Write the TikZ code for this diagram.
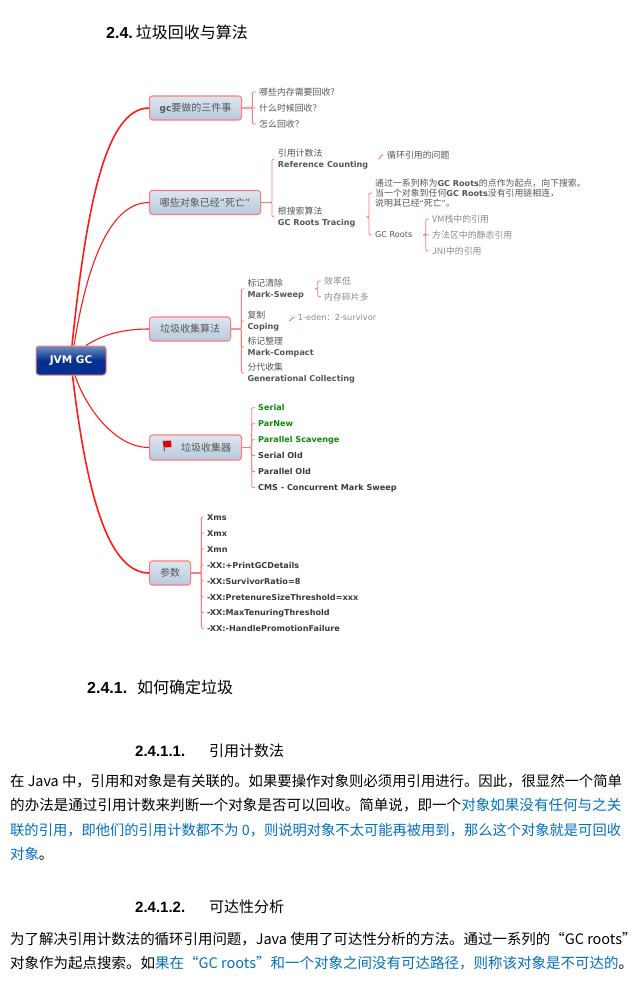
\documentclass[tikz,border=0pt]{standalone}
\usepackage{fontspec}
\usetikzlibrary{calc}
\setmainfont{DejaVu Sans}
\newfontfamily\cjk{Noto Sans CJK SC}
\newfontfamily\latinb{DejaVu Sans}
\newfontfamily\headnum{Liberation Sans}
\definecolor{branch}{HTML}{FF1A1A}
\definecolor{twigred}{HTML}{FF7A80}
\definecolor{ink}{HTML}{3A3A3A}
\definecolor{softink}{HTML}{555555}
\definecolor{muted}{HTML}{8A8A8A}
\definecolor{linkblue}{HTML}{0070C0}
\definecolor{gogreen}{HTML}{0A8A0A}
\definecolor{topichi}{HTML}{DCE6EF}
\definecolor{topiclo}{HTML}{B7CADC}
\definecolor{roothi}{HTML}{6F8FBE}
\definecolor{rootlo}{HTML}{04308F}
\tikzset{
  topic/.style={draw=twigred,line width=1.1pt,rounded corners=3pt,anchor=west,
    top color=topichi,bottom color=topiclo,text=softink,inner sep=0pt,
    minimum height=24pt,font=\cjk\fontsize{10}{12}\selectfont},
  leaf/.style={anchor=west,inner sep=0pt,text=softink,align=left,font=\cjk\fontsize{8.9}{10.5}\selectfont},
  grayleaf/.style={leaf,text=muted},
  boldleaf/.style={anchor=west,inner sep=0pt,text=ink,text height=7pt,text depth=1pt,
    font=\latinb\bfseries\fontsize{8.1}{10}\selectfont},
  goleaf/.style={boldleaf,text=gogreen},
  pairleaf/.style={leaf,font=\cjk\fontsize{8.9}{11}\selectfont},
  mainline/.style={draw=branch,line width=1.1pt},
  heavyline/.style={mainline,line width=1.6pt},
  twig/.style={draw=twigred,line width=0.9pt,rounded corners=1.2pt,shorten >=3pt},
  headline/.style={anchor=west,inner sep=0pt,text=black,font=\cjk\fontsize{16}{18}\selectfont},
  subhead/.style={anchor=west,inner sep=0pt,text=black,font=\cjk\fontsize{15}{18}\selectfont},
  bodyline/.style={anchor=west,inner sep=0pt,text=black,font=\cjk\fontsize{#1}{18}\selectfont}
}
\newcommand{\bl}[1]{{\latinb\bfseries\fontsize{8.1}{10}\selectfont #1}}
\newcommand{\num}[1]{{\headnum\bfseries #1}}
\newcommand{\blue}[1]{\textcolor{linkblue}{#1}}
\newcommand{\nq}[1]{{\latinb\fontsize{8}{10}\selectfont #1}}
\begin{document}
\begin{tikzpicture}[x=1pt,y=-1pt]
\useasboundingbox (0,0) rectangle (640,998);
% heading
\node[headline] (title) at (106,32) {\num{2.4.}\hspace{3pt}垃圾回收与算法};
% centre of the map
\node[draw=twigred,line width=1pt,rounded corners=3pt,top color=roothi,bottom color=rootlo,
  middle color=rootlo,text=white,minimum width=70pt,minimum height=29pt,inner sep=0pt,
  font=\latinb\bfseries\fontsize{10.5}{12}\selectfont] (jvm) at (71,360.5) {JVM GC};
\node[topic,minimum width=92pt] (gc) at (149,108) {{\latinb\bfseries\fontsize{9}{10}\selectfont gc}要做的三件事};
\node[topic,minimum width=111pt] (dead) at (149,202.5) {哪些对象已经{\latinb “}死亡{\latinb ”}};
\node[topic,minimum width=81pt] (algo) at (149,329) {垃圾收集算法};
\node[topic,minimum width=92pt,minimum height=25pt] (coll) at (149,447.5) {\hspace{21pt}垃圾收集器\hspace{2pt}};
\node[topic,minimum width=41pt] (param) at (149,573) {参数};
\draw[heavyline] ([xshift=1pt]jvm.north) .. controls (86,210) and (105,108) .. (gc.west);
\draw[mainline] ([xshift=3pt]jvm.north) .. controls (86,270) and (108,202.5) .. (dead.west);
\draw[mainline] ([xshift=15pt]jvm.north) .. controls (102,335) and (122,329) .. (algo.west);
\draw[mainline] ([xshift=4pt]jvm.south) .. controls (86,408) and (115,447.5) .. (coll.west);
\draw[heavyline] ([xshift=1.5pt]jvm.south) .. controls (85,480) and (105,573) .. (param.west);
% little flag
\fill[softink] (162.5,440.5) -- (163.5,440.5) -- (165,451) -- (164,451) -- cycle;
\fill[red!90!black] (163.5,441) -- (171,440.5) -- (171.5,447) -- (164.5,447.5) -- cycle;
% what gc does
\node[leaf] (q1) at (259,92) {哪些内存需要回收？};
\node[leaf] (q2) at (259,108) {什么时候回收？};
\node[leaf] (q3) at (259,124) {怎么回收？};
\foreach \k in {q1,q2,q3}
  \draw[twig] (gc.east) -- (252.3,108) |- (\k.west);
% dead objects
\node[pairleaf] (refc) at (277.7,159) {引用计数法\\\bl{Reference Counting}};
\node[pairleaf] (trace) at (277.7,217) {根搜索算法\\\bl{GC Roots Tracing}};
\foreach \k in {refc,trace}
  \draw[twig] (dead.east) -- (272,202.5) |- (\k.west);
\coordinate (refout) at (378,159);
\node[leaf] (cycle) at (387,155) {循环引用的问题};
\draw[twig] (refout) -- (380,159) -- (381,155) -- (cycle.west);
\coordinate (traceout) at (366.5,217);
\node[leaf,font=\cjk\fontsize{8.9}{10}\selectfont] (desc) at (375,193)
  {通过一系列称为\bl{GC Roots}的点作为起点，向下搜索。\\当一个对象到任何\bl{GC Roots}没有引用链相连，\\说明其已经\nq{“}死亡\nq{”}。};
\node[leaf] (roots) at (375,235) {\latinb\fontsize{8.1}{10}\selectfont GC Roots};
\foreach \k in {desc,roots}
  \draw[twig] (traceout) -- (369,217) |- (\k.west);
\node[grayleaf] (r1) at (432,219) {VM栈中的引用};
\node[grayleaf] (r2) at (432,235) {方法区中的静态引用};
\node[grayleaf] (r3) at (432,251) {JNI中的引用};
\coordinate (rootsout) at (423,235);
\foreach \k in {r1,r2,r3}
  \draw[twig] (rootsout) -- (425.7,235) |- (\k.west);
% algorithms
\node[pairleaf] (sweep) at (247.3,289) {标记清除\\\bl{Mark-Sweep}};
\node[pairleaf] (coping) at (247.3,321) {复制\\\bl{Coping}};
\node[pairleaf] (compact) at (247.3,347) {标记整理\\\bl{Mark-Compact}};
\node[pairleaf] (gener) at (247.3,373) {分代收集\\\bl{Generational Collecting}};
\foreach \k in {sweep,coping,compact,gener}
  \draw[twig] (algo.east) -- (241.3,329) |- (\k.west);
\coordinate (sweepout) at (315,288.7);
\node[grayleaf] (low) at (324,281) {效率低};
\node[grayleaf] (frag) at (324,296.7) {内存碎片多};
\foreach \k in {low,frag}
  \draw[twig] (sweepout) -- (317.7,288.7) |- (\k.west);
\coordinate (copingout) at (289,320.7);
\node[grayleaf,font=\latinb\fontsize{8.2}{10}\selectfont] (eden) at (297.7,317.7) {1-eden{\cjk：}2-survivor};
\draw[twig] (copingout) -- (291,320.7) -- (292,317.5) -- (eden.west);
% collectors
\node[goleaf] (c1) at (258,407.7) {Serial};
\node[goleaf] (c2) at (258,423.7) {ParNew};
\node[goleaf] (c3) at (258,439.7) {Parallel Scavenge};
\node[boldleaf] (c4) at (258,455.6) {Serial Old};
\node[boldleaf] (c5) at (258,471.6) {Parallel Old};
\node[boldleaf] (c6) at (258,487.5) {CMS - Concurrent Mark Sweep};
\foreach \k in {c1,c2,c3,c4,c5,c6}
  \draw[twig] (coll.east) -- (251.7,447.5) |- (\k.west);
% parameters
\node[boldleaf] (p1) at (207,517) {Xms};
\node[boldleaf] (p2) at (207,533) {Xmx};
\node[boldleaf] (p3) at (207,549) {Xmn};
\node[boldleaf] (p4) at (207,565) {-XX:+PrintGCDetails};
\node[boldleaf] (p5) at (207,581) {-XX:SurvivorRatio=8};
\node[boldleaf] (p6) at (207,597) {-XX:PretenureSizeThreshold=xxx};
\node[boldleaf] (p7) at (207,612.6) {-XX:MaxTenuringThreshold};
\node[boldleaf] (p8) at (207,628.5) {-XX:-HandlePromotionFailure};
\foreach \k in {p1,p2,p3,p4,p5,p6,p7,p8}
  \draw[twig] (param.east) -- (201.3,573) |- (\k.west);
% text below the map
\node[headline] (h241) at (87,687) {\num{2.4.1.}\hspace{10pt}如何确定垃圾};
\node[subhead] (h2411) at (135,751) {\num{2.4.1.1.}};
\node[subhead] (t2411) at (209,751) {引用计数法};
\node[bodyline=14.36] (l1) at (10,781) {在 Java 中，引用和对象是有关联的。如果要操作对象则必须用引用进行。因此，很显然一个简单};
\node[bodyline=14.55] (l2) at (10,805) {的办法是通过引用计数来判断一个对象是否可以回收。简单说，即一个\blue{对象如果没有任何与之关}};
\node[bodyline=14.28] (l3) at (10,830) {\blue{联的引用，即他们的引用计数都不为 0，则说明对象不太可能再被用到，那么这个对象就是可回收}};
\node[bodyline=14.4] (l4) at (10,854) {\blue{对象}。};
\node[subhead] (h2412) at (135,907) {\num{2.4.1.2.}};
\node[subhead] (t2412) at (209,907) {可达性分析};
\node[bodyline=14.45] (l5) at (10,939) {为了解决引用计数法的循环引用问题，Java 使用了可达性分析的方法。通过一系列的“GC roots”};
\node[bodyline=14.5] (l6) at (10,963) {对象作为起点搜索。如\blue{果在“GC roots”和一个对象之间没有可达路径，则称该对象是不可达的}。};
\end{tikzpicture}
\end{document}
